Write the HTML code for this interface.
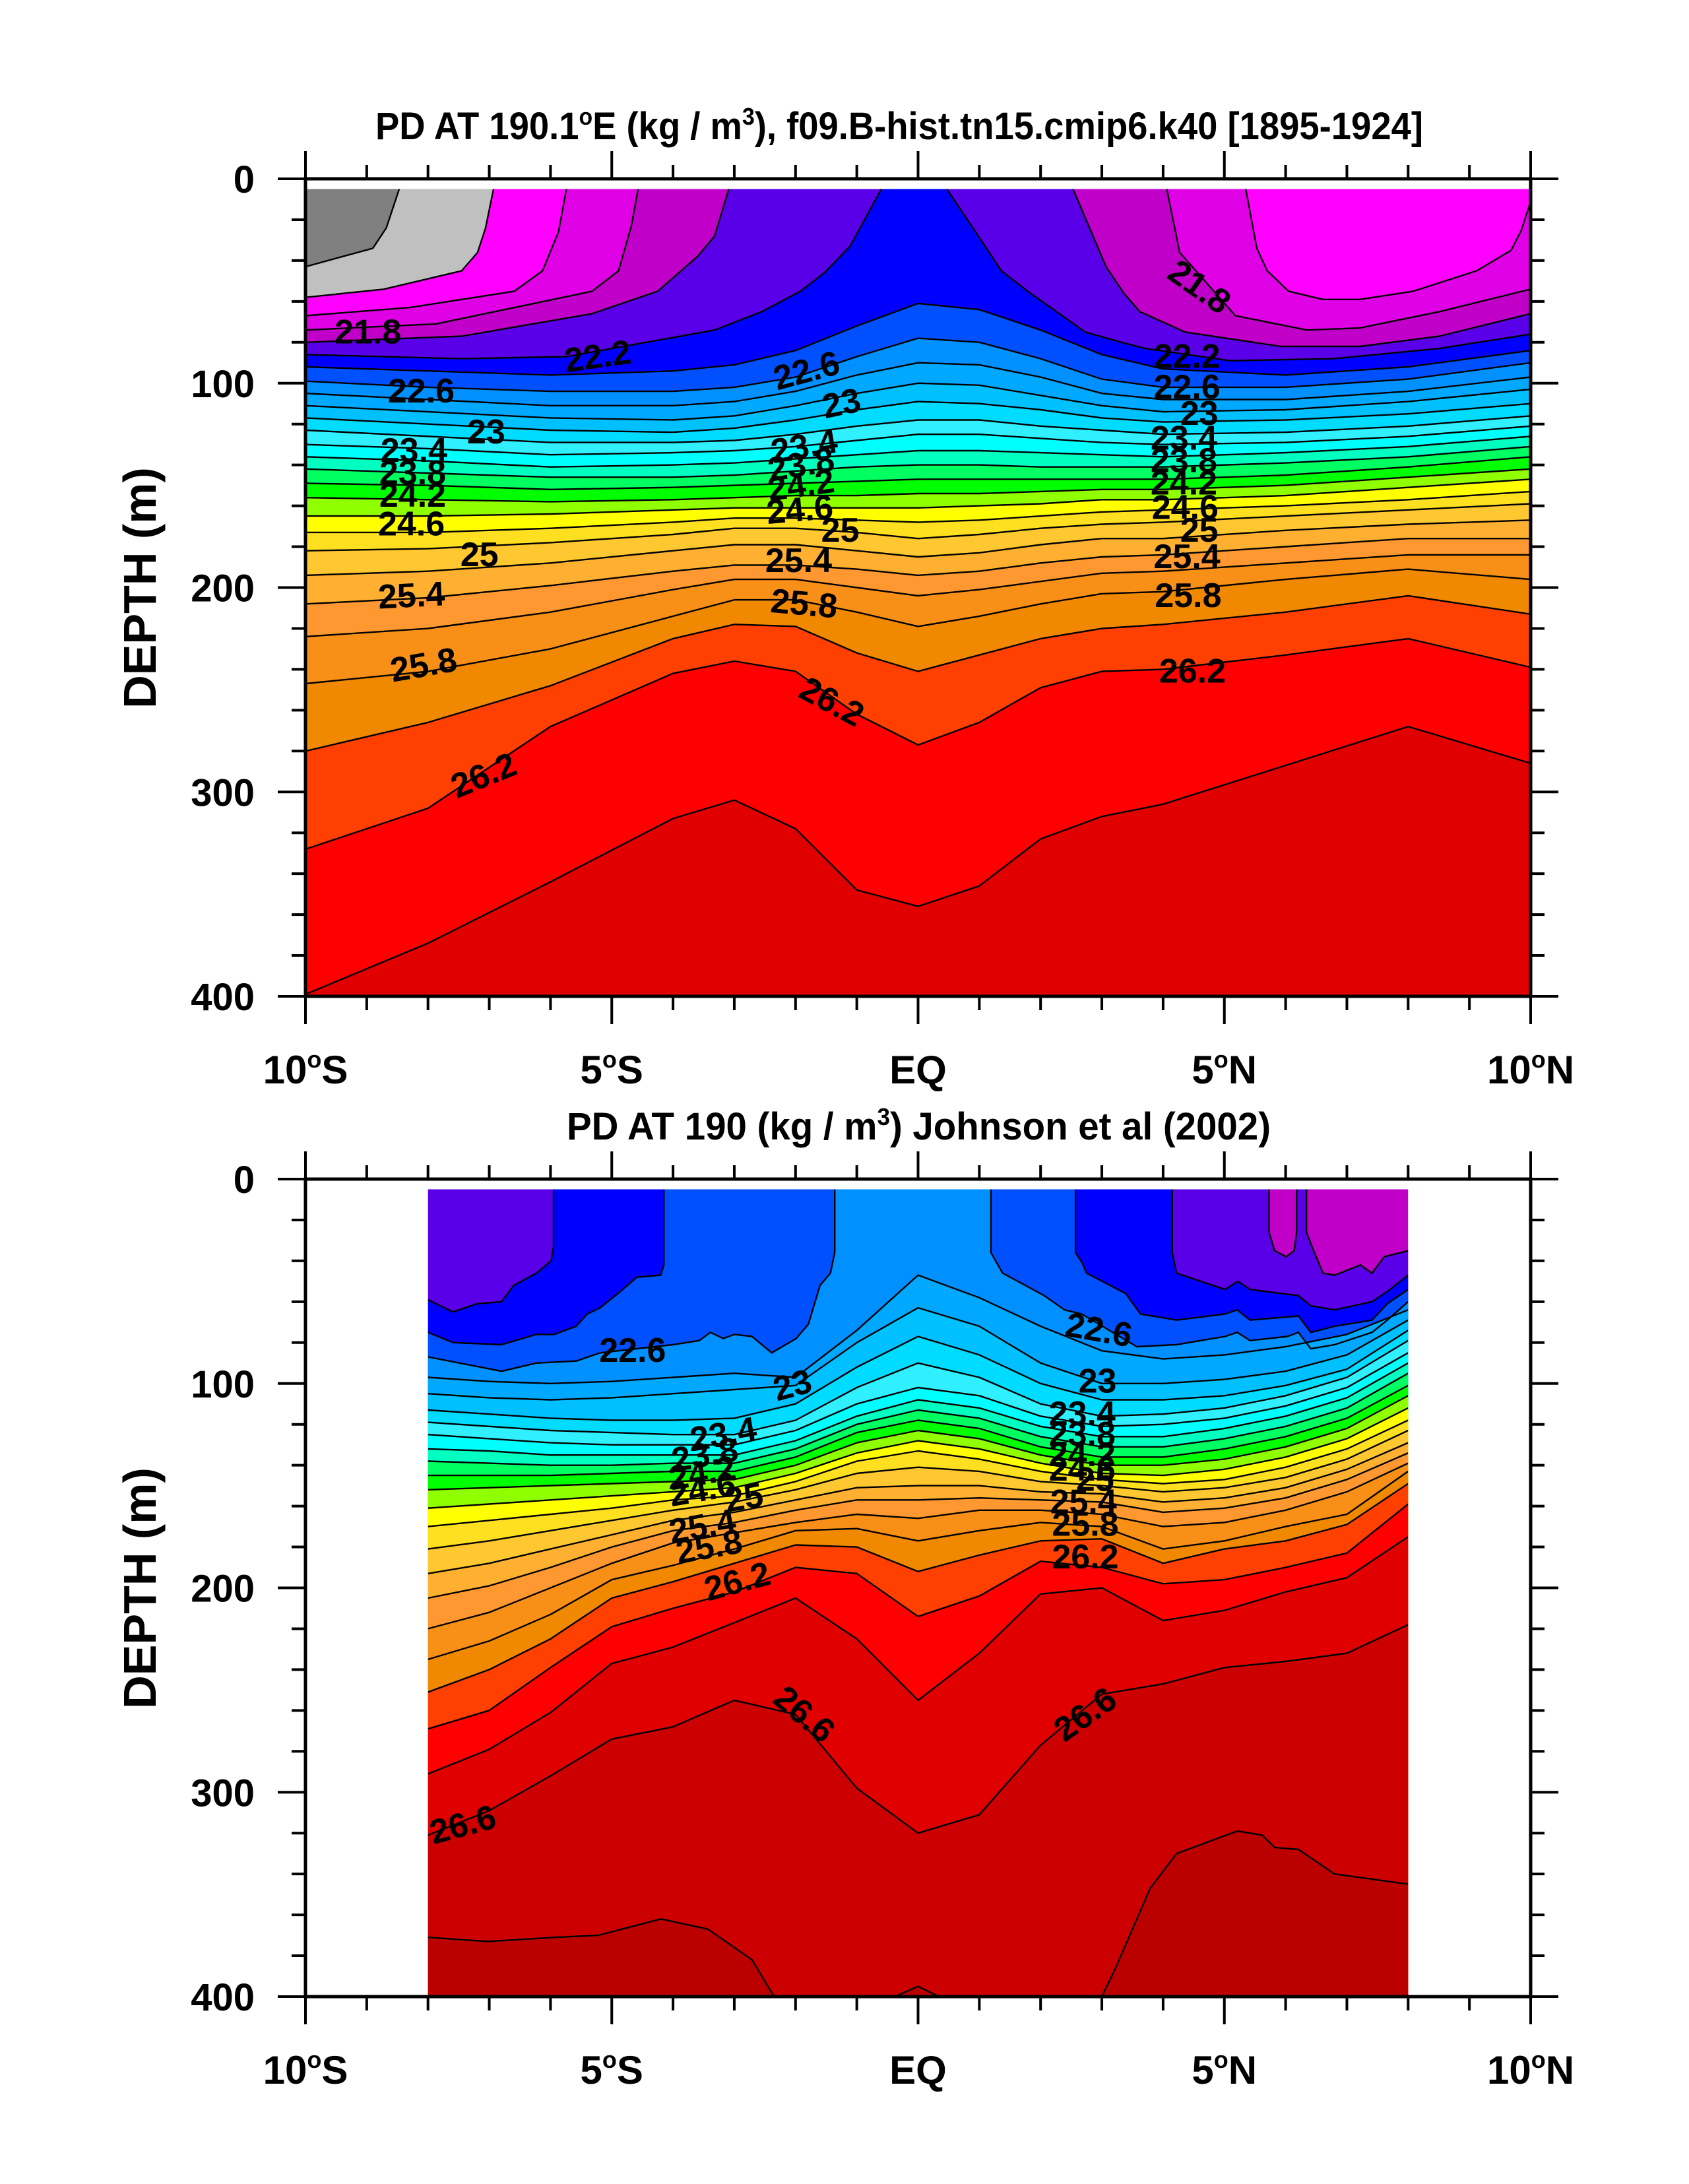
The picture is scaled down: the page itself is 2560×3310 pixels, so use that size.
<!DOCTYPE html>
<html><head><meta charset="utf-8">
<style>
html,body{margin:0;padding:0;background:#fff;}
svg{display:block;font-family:"Liberation Sans",Arial,sans-serif;font-weight:bold;}
</style></head>
<body>
<svg id="chart" width="2560" height="3310" viewBox="0 0 2560 3310" xmlns="http://www.w3.org/2000/svg">
<rect x="0" y="0" width="2560" height="3310" fill="#fff"/>
<text x="569" y="211" font-size="58" textLength="1588" lengthAdjust="spacingAndGlyphs">PD AT 190.1<tspan font-size="36" dy="-22">o</tspan><tspan dy="22">E (kg / m</tspan><tspan font-size="36" dy="-22">3</tspan><tspan dy="22">), f09.B-hist.tn15.cmip6.k40 [1895-1924]</tspan></text>
<text x="859" y="1727" font-size="58" textLength="1067" lengthAdjust="spacingAndGlyphs">PD AT 190 (kg / m<tspan font-size="36" dy="-22">3</tspan><tspan dy="22">) Johnson et al (2002)</tspan></text>
<g id="topPanel"></g>
<g id="botPanel"></g>
</svg>
<script>
// ---------------- TOP PANEL DATA (model) ----------------
const topLevels = [21.2,21.4,21.6,21.8,22.0,22.2,22.4,22.6,22.8,23.0,23.2,23.4,23.6,23.8,24.0,24.2,24.4,24.6,24.8,25.0,25.2,25.4,25.6,25.8,26.0,26.2,26.4];
const topColors = ["#808080","#c0c0c0","#ff00ff","#e000e6","#c000c8","#5a00e8","#0000ff","#0050ff","#0090ff","#00a8ff","#00c0ff","#00dcff","#30f0ff","#00ffff","#00ffc0","#00ff60","#00ff00","#90ff00","#ffff00","#ffe020","#ffc830","#ffb030","#ff9830","#f89018","#f08800","#ff4000","#ff0000","#e00000"];
const topL212_lat = [-10,-8.9,-8.68,-8.47];
const topL212_dep = [43,34,24,5];
const topL214_lat = [-10,-8.72,-7.45,-7.19,-7.06,-6.93];
const topL214_dep = [58,54,45,36,24,5];
const topL216_lat = [-10,-8.3,-6.59,-6.13,-5.87,-5.74,5.35,5.53,5.70,6.05,6.61,7.21,8.08,9.12,9.68,9.85,10];
const topL216_dep = [67,63,55,45,26,5,5,34,45,55,59,59,55,45,35,25,11];
const topL218_lat = [-10,-7.87,-5.32,-4.89,-4.68,-4.57,4.06,4.27,5.18,6.35,7.21,8.51,10];
const topL218_dep = [74,71,55,45,23,5,5,36,67,74,73,65,54];
const topL220_lat = [-10,-7.45,-5.32,-4.25,-3.6,-3.32,-3.09,2.53,3.07,3.36,3.62,4.36,5.92,7.21,8.51,10];
const topL220_dep = [80,77,66,55,38,28,5,5,43,56,65,75,82,82,77,66];
const topL222_lat = [-10,-7.45,-5.74,-3.32,-2.55,-1.92,-1.53,-1.11,-0.6,0.47,0.94,1.36,1.79,2.73,3.32,3.71,5.09,6.78,8.51,10];
const topL222_dep = [86,88,87,74,65,55,46,33,5,5,26,45,55,75,80,83,89,88,83,76];
const topLatGrid = [-10,-8,-6,-4,-3,-2,-1,0,1,2,3,4,6,8,10];
const topD224 = [92,94,96,94,91,84,72,61,64,74,86,93,96,92,84];
const topD226 = [99,102,104,104,102,97,87,78,80,88,98,102,102,98,90];
const topD228 = [105,108,111,111,109,104,96,90,91,97,105,108,108,104,97];
const topD230 = [111,114,117,118,116,111,105,100,101,106,111,114,113,109,103];
const topD232 = [117,120,123,124,122,118,113,109,110,113,117,119,118,115,110];
const topD234 = [123,126,129,129,128,125,121,118,118,121,123,125,124,121,116];
const topD236 = [130,132,135,134,133,131,128,125,125,127,129,130,129,126,121];
const topD238 = [136,138,141,140,139,137,135,133,133,134,135,136,134,131,126];
const topD240 = [142,144,146,146,145,143,141,140,140,141,141,141,139,136,131];
const topD242 = [149,150,152,151,150,149,148,147,147,147,147,147,145,141,136];
const topD244 = [156,157,158,157,156,155,155,154,154,153,152,152,150,146,142];
const topD246 = [165,165,164,162,161,161,161,161,160,159,157,157,155,151,147];
const topD248 = [173,173,171,168,166,166,167,168,167,165,163,162,160,157,153];
const topD250 = [182,181,178,174,171,171,173,176,174,171,169,168,165,162,159];
const topD252 = [194,192,188,182,179,179,182,185,183,179,176,176,172,169,167];
const topD254 = [208,205,199,192,189,189,191,194,192,188,185,184,180,176,176];
const topD256 = [224,220,212,201,196,196,200,204,201,197,193,192,188,184,184];
const topD258 = [247,241,230,214,206,206,212,219,214,208,203,202,196,191,196];
const topD260 = [280,266,248,225,218,219,232,241,233,225,220,218,212,204,213];
const topD262 = [328,308,268,242,236,241,262,277,266,249,241,240,233,225,239];
const topD264 = [399,374,344,313,304,318,348,356,346,323,312,306,287,268,286];
const topLabelText = ["21.8","22.2","22.6","23","23.4","23.8","24.2","24.6","25","25.4","25.8","26.2","22.6","23","23.4","23.8","24.2","24.6","25","25.4","25.8","26.2","21.8","22.2","22.6","23","23.4","23.8","24.2","24.6","25","25.4","25.8","26.2"];
const topLabelLat = [-8.98,-5.23,-8.11,-7.05,-8.23,-8.25,-8.25,-8.27,-7.16,-8.27,-8.07,-7.09,-1.82,-1.25,-1.86,-1.91,-1.91,-1.93,-1.27,-1.95,-1.86,-1.41,4.59,4.39,4.39,4.59,4.34,4.34,4.34,4.36,4.59,4.39,4.41,4.48];
const topLabelDep = [75,87,104,124,133,144,155,169,184,204,238,292,94,110,131,140,150,162,172,187,208,256,53,87,102,115,127,138,149,161,172,185,204,241];
const topLabelRot = [0,-8,0,0,0,0,0,0,0,-3,-10,-22,-15,-12,-10,-10,-8,-5,0,0,5,28,35,0,0,0,0,0,0,0,0,0,0,0];

// ---------------- BOTTOM PANEL DATA (Johnson et al 2002) ----------------
const botLevels = [22.0,22.2,22.4,22.6,22.8,23.0,23.2,23.4,23.6,23.8,24.0,24.2,24.4,24.6,24.8,25.0,25.2,25.4,25.6,25.8,26.0,26.2,26.4,26.6,26.8];
const botColors = ["#c000c8","#5a00e8","#0000ff","#0050ff","#0090ff","#00a8ff","#00c0ff","#00dcff","#30f0ff","#00ffff","#00ffc0","#00ff60","#00ff00","#90ff00","#ffff00","#ffe020","#ffc830","#ffb030","#ff9830","#f89018","#f08800","#ff4000","#ff0000","#e00000","#cc0000","#bb0000"];
const botL220_lat = [5.73,5.73,5.82,6.01,6.14,6.18,6.18,6.34,6.34,6.43,6.61,6.8,7.22,7.41,7.61,8.0];
const botL220_dep = [5,26,35,38,35,26,5,5,26,33,46,47,42,46,38,35];
const botL222_lat = [-8,-7.59,-7.2,-6.8,-6.6,-6.23,-5.99,-5.95,-5.95,4.15,4.15,4.22,5.01,5.22,5.42,6.21,6.41,6.8,7.41,7.66,8.0];
const botL222_dep = [59,65,61,60,52,46,40,33,5,5,36,46,54,50,54,57,62,64,60,55,47];
const botL224_lat = [-8,-7.59,-6.8,-6.23,-5.94,-5.58,-5.4,-5.19,-4.86,-4.59,-4.2,-4.15,-4.15,2.57,2.57,2.68,2.75,3.39,3.63,4.22,5.01,5.21,5.42,6.21,6.41,6.8,7.41,7.66,8.0];
const botL224_dep = [75,80,81,76,76,72,66,63,55,48,47,42,5,5,36,41,46,56,66,69,66,64,69,67,75,72,69,61,54];
const botL226_lat = [-8,-6.8,-6.23,-5.58,-5.19,-4.0,-3.57,-3.39,-3.18,-3.0,-2.71,-2.39,-1.99,-1.79,-1.6,-1.43,-1.36,-1.36,1.19,1.19,1.38,2.06,2.39,2.67,3.57,4.22,5.01,5.21,5.42,6.03,6.21,6.41,6.8,7.41,7.66,8.0];
const botL226_dep = [87,94,90,89,85,81,79,75,78,76,77,85,78,71,52,46,36,5,5,36,46,57,64,66,82,81,77,75,79,77,75,83,81,75,69,60];
const botLatGrid = [-8,-7,-6,-5,-4,-3,-2,-1,0,1,2,3,4,5,6,7,8];
const botD228 = [97,99,100,99,97,95,97,74,47,58,72,84,88,86,82,76,64];
const botD230 = [105,107,108,107,105,103,101,80,63,72,90,100,100,98,94,86,69];
const botD232 = [113,115,117,118,118,117,110,92,77,86,100,108,108,106,101,93,74];
const botD234 = [119,121,123,124,125,125,118,102,90,97,110,116,115,112,106,97,79];
const botD236 = [125,127,129,130,130,130,123,110,102,106,116,121,120,117,111,102,85];
const botD238 = [132,133,135,135,135,135,128,116,108,112,121,126,126,122,116,107,90];
const botD240 = [138,139,140,140,139,139,132,120,113,117,126,131,131,127,121,112,95];
const botD242 = [145,145,145,144,143,143,136,124,118,122,131,136,136,132,126,117,101];
const botD244 = [152,151,150,149,148,147,140,129,123,127,135,140,140,137,131,122,106];
const botD246 = [161,159,157,155,153,151,144,134,128,132,139,144,145,142,136,127,112];
const botD248 = [170,167,164,161,157,155,148,138,133,137,143,147,149,147,141,132,118];
const botD250 = [181,177,172,167,162,158,152,144,141,143,148,150,153,151,146,137,123];
const botD252 = [193,188,181,174,167,163,157,151,150,150,153,154,158,156,151,142,129];
const botD254 = [205,199,190,180,172,168,162,157,157,156,157,158,163,161,156,147,134];
const botD256 = [220,212,200,188,178,173,168,164,166,162,162,164,170,168,162,153,139];
const botD258 = [235,226,213,196,189,181,172,171,177,172,168,170,181,177,170,164,143];
const botD260 = [251,240,225,205,197,188,179,180,192,184,177,176,188,181,177,169,149];
const botD262 = [269,260,239,219,210,202,190,193,214,204,187,190,198,196,190,183,159];
const botD264 = [291,279,261,237,229,217,205,225,255,232,203,200,216,211,202,195,175];
const botD266 = [321,309,292,274,268,255,262,298,320,311,277,252,247,239,236,232,218];
const botL268_lat = [-8,-7.02,-5.94,-5.22,-4.2,-3.43,-2.71,-2.35,-0.38,0,0.34,3.0,3.21,3.79,4.22,5.21,5.62,5.82,6.21,6.8,8.0];
const botL268_dep = [371,373,371,370,362,367,382,400,400,395,400,400,387,347,330,319,321,327,328,340,345];
const botLabelText = ["22.6","23","23.4","23.8","24.2","24.6","25","25.4","25.8","26.2","26.6","26.6","22.6","23","23.4","23.8","24.2","24.6","25","25.4","25.8","26.2","26.6"];
const botLabelLat = [-4.66,-2.05,-3.18,-3.48,-3.52,-3.52,-2.84,-3.52,-3.41,-2.95,-7.43,-1.86,2.95,2.93,2.68,2.68,2.68,2.68,2.89,2.7,2.73,2.73,2.73];
const botLabelDep = [84,101,125,135,144,152,156,170,180,197,316,262,74,99,115,125,135,142,147,158,169,185,262];
const botLabelRot = [0,-15,-10,-10,-10,-10,-10,-10,-10,-15,-15,40,10,0,0,0,0,0,0,0,0,0,-35];

// axis ticks
const xMajorTicks = [-10,-5,0,5,10];
const xTickLabels = ["10|S","5|S","EQ","5|N","10|N"];
const yMajorTicks = [0,100,200,300,400];
const yTickLabels = ["0","100","200","300","400"];

// ---------------- RENDERING ----------------
const NS = "http://www.w3.org/2000/svg";
const PX0 = 463, PX1 = 2320;
function xOf(lat){ return PX0 + (lat + 10) * (PX1 - PX0) / 20; }
function mkY(Y0){ return function(dep){ return Y0 + dep * 1239 / 400; }; }
function el(tag, attrs){ const e = document.createElementNS(NS, tag); for (const k in attrs) e.setAttribute(k, attrs[k]); return e; }

function buildPanel(root, Y0, levels, colors, lines, latMin, latMax, labels, clipId){
  const yOf = mkY(Y0);
  const xa = xOf(latMin), xb = xOf(latMax), ya = yOf(5), yb = yOf(400);
  const defs = el("defs", {});
  const cp = el("clipPath", {id: clipId});
  cp.appendChild(el("rect", {x: xa, y: ya, width: xb - xa, height: yb - ya}));
  defs.appendChild(cp); root.appendChild(defs);
  const g = el("g", {"clip-path": "url(#" + clipId + ")"});
  
  
  root.appendChild(g);
  const bg = el("rect", {x: xa, y: ya, width: xb - xa, height: yb - ya, fill: colors[0]});
  
  
  g.appendChild(bg);
  const strokes = [];
  lines.forEach(function(ln, i){
    const lat = ln[0], dep = ln[1];
    const pts = lat.map(function(v, k){ return [xOf(v), yOf(Math.max(5, Math.min(400, dep[k])))]; });
    const sLat = lat[0], eLat = lat[lat.length - 1], eDep = dep[dep.length - 1], sDep = dep[0];
    const poly = pts.slice();
    if (eLat < latMax - 1e-6 && eDep <= 5) { poly.push([xb, ya]); }
    poly.push([xb, yb]); poly.push([xa, yb]);
    if (sLat > latMin + 1e-6 && sDep <= 5) { poly.push([xa, ya]); }
    const p = el("polygon", {points: poly.map(function(q){ return q[0].toFixed(1) + "," + q[1].toFixed(1); }).join(" "), fill: colors[i + 1]});
    
    
    g.appendChild(p);
    let d = "", pen = false;
    for (let k = 0; k < pts.length; k++) {
      if (k > 0) {
        const both5 = dep[k] <= 5 && dep[k - 1] <= 5, both400 = dep[k] >= 400 && dep[k - 1] >= 400;
        if (both5 || both400) { pen = false; continue; }
        if (!pen) { d += "M" + pts[k - 1][0].toFixed(1) + "," + pts[k - 1][1].toFixed(1); pen = true; }
        d += "L" + pts[k][0].toFixed(1) + "," + pts[k][1].toFixed(1);
      }
    }
    strokes.push([d, levels[i]]);
  });
  strokes.forEach(function(sd){
    const path = el("path", {d: sd[0], fill: "none", stroke: "#000", "stroke-width": 2.4, "stroke-linejoin": "round"});
    
    
    g.appendChild(path);
  });
  labels.text.forEach(function(t, i){
    const x = xOf(labels.lat[i]), y = yOf(labels.dep[i]);
    const tx = el("text", {x: x, y: y, "font-size": 52, "text-anchor": "middle", "dominant-baseline": "central", transform: "rotate(" + labels.rot[i] + " " + x + " " + y + ")", fill: "#000"});
    tx.textContent = t;
    
    
    g.appendChild(tx);
  });
  const frame = el("rect", {x: PX0, y: Y0, width: PX1 - PX0, height: 1239, fill: "none", stroke: "#000", "stroke-width": 5});
  
  
  root.appendChild(frame);
  let td = "";
  for (let lat = -10; lat <= 10; lat++) {
    const x = xOf(lat), L = (lat % 5 === 0) ? 42 : 21;
    td += "M" + x + "," + Y0 + "v" + (-L) + "M" + x + "," + (Y0 + 1239) + "v" + L;
  }
  for (let dp = 0; dp <= 400; dp += 20) {
    const y = yOf(dp), L = (dp % 100 === 0) ? 42 : 21;
    td += "M" + PX0 + "," + y + "h" + (-L) + "M" + PX1 + "," + y + "h" + L;
  }
  const ticks = el("path", {d: td, stroke: "#000", "stroke-width": 4, fill: "none"});
  
  
  root.appendChild(ticks);
  xMajorTicks.forEach(function(v, i){
    const parts = xTickLabels[i].split("|");
    const tx = el("text", {x: xOf(v), y: Y0 + 1239 + 132, "font-size": 60, "text-anchor": "middle"});
    
    
    if (parts.length === 2) {
      const a = el("tspan", {}); a.textContent = parts[0];
      const b = el("tspan", {"font-size": 36, dy: -24}); b.textContent = "o";
      const c = el("tspan", {dy: 24}); c.textContent = parts[1];
      tx.appendChild(a); tx.appendChild(b); tx.appendChild(c);
    } else { tx.textContent = parts[0]; }
    root.appendChild(tx);
  });
  yMajorTicks.forEach(function(v, i){
    const tx = el("text", {x: 386, y: yOf(v) + 21, "font-size": 58, "text-anchor": "end"});
    tx.textContent = yTickLabels[i];
    
    
    root.appendChild(tx);
  });
  const cy = Y0 + 620;
  const yt = el("text", {x: 236, y: cy, "font-size": 70, "text-anchor": "middle", transform: "rotate(-90 236 " + cy + ")"});
  yt.textContent = "DEPTH (m)";
  
  
  root.appendChild(yt);
}

const topLines = [
  [topL212_lat, topL212_dep],[topL214_lat, topL214_dep],[topL216_lat, topL216_dep],[topL218_lat, topL218_dep],
  [topL220_lat, topL220_dep],[topL222_lat, topL222_dep],
  [topLatGrid, topD224],[topLatGrid, topD226],[topLatGrid, topD228],[topLatGrid, topD230],[topLatGrid, topD232],
  [topLatGrid, topD234],[topLatGrid, topD236],[topLatGrid, topD238],[topLatGrid, topD240],[topLatGrid, topD242],
  [topLatGrid, topD244],[topLatGrid, topD246],[topLatGrid, topD248],[topLatGrid, topD250],[topLatGrid, topD252],
  [topLatGrid, topD254],[topLatGrid, topD256],[topLatGrid, topD258],[topLatGrid, topD260],[topLatGrid, topD262],
  [topLatGrid, topD264]
];
const botLines = [
  [botL220_lat, botL220_dep],[botL222_lat, botL222_dep],[botL224_lat, botL224_dep],[botL226_lat, botL226_dep],
  [botLatGrid, botD228],[botLatGrid, botD230],[botLatGrid, botD232],[botLatGrid, botD234],[botLatGrid, botD236],
  [botLatGrid, botD238],[botLatGrid, botD240],[botLatGrid, botD242],[botLatGrid, botD244],[botLatGrid, botD246],
  [botLatGrid, botD248],[botLatGrid, botD250],[botLatGrid, botD252],[botLatGrid, botD254],[botLatGrid, botD256],
  [botLatGrid, botD258],[botLatGrid, botD260],[botLatGrid, botD262],[botLatGrid, botD264],[botLatGrid, botD266],
  [botL268_lat, botL268_dep]
];
buildPanel(document.getElementById("topPanel"), 271, topLevels, topColors, topLines, -10, 10,
  {text: topLabelText, lat: topLabelLat, dep: topLabelDep, rot: topLabelRot}, "clipTop");
buildPanel(document.getElementById("botPanel"), 1787, botLevels, botColors, botLines, -8, 8,
  {text: botLabelText, lat: botLabelLat, dep: botLabelDep, rot: botLabelRot}, "clipBot");
</script>
</body></html>
